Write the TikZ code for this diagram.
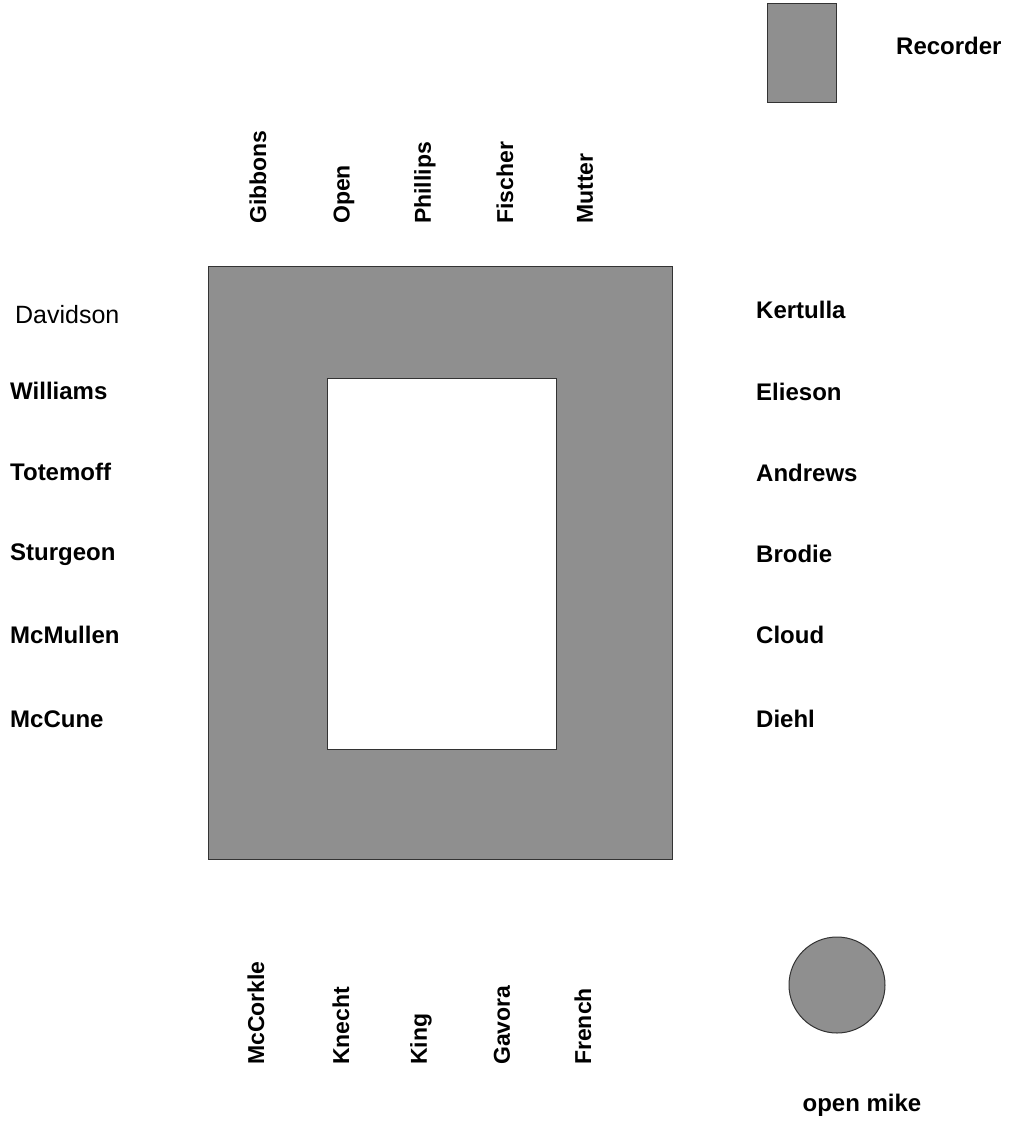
\documentclass[tikz,border=0pt]{standalone}
\usepackage{fontspec}
\setmainfont{Liberation Sans}
\definecolor{dither}{gray}{0.56}
\begin{document}
\begin{tikzpicture}[x=1pt,y=-1pt,
  lab/.style={inner sep=0pt,font=\bfseries\fontsize{24}{28}\selectfont},
  labreg/.style={inner sep=0pt,font=\fontsize{25}{28}\selectfont},
  vlab/.style={lab,rotate=90,anchor=west,font=\bfseries\fontsize{23}{28}\selectfont},
  shade/.style={fill=dither,draw=black!80,line width=1pt}]
\useasboundingbox (0,0) rectangle (1026,1132);
% table frame
\path[shade,even odd rule] (208,266) rectangle (672,859) (327,378) rectangle (556,749);
\coordinate (table) at (440,562);
% recorder
\node[shade,minimum width=69pt,minimum height=98pt,inner sep=0pt] (rec) at (801.5,53) {};
\node[lab,anchor=base west] (reclab) at (896,55) {Recorder};
% open mike
\node[shade,circle,minimum size=96pt,inner sep=0pt] (mike) at (837,985) {};
\node[lab,anchor=base] (mikelab) at (862,1111) {open mike};
% top
\node[vlab] (gibbons) at (258,224) {Gibbons};
\node[vlab] (open) at (344,224) {Open};
\node[vlab] (phillips) at (425,224) {Phillips};
\node[vlab] (fischer) at (505,224) {Fischer};
\node[vlab] (mutter) at (585,224) {Mutter};
% bottom
\node[vlab] (mccorkle) at (256,1065) {McCorkle};
\node[vlab] (knecht) at (341,1065) {Knecht};
\node[vlab] (king) at (421,1065) {King};
\node[vlab] (gavora) at (502,1065) {Gavora};
\node[vlab] (french) at (583,1065) {French};
% left
\node[labreg,anchor=base west] (davidson) at (15,323) {Davidson};
\node[lab,anchor=base west] (williams) at (10,399) {Williams};
\node[lab,anchor=base west] (totemoff) at (10,480) {Totemoff};
\node[lab,anchor=base west] (sturgeon) at (10,560) {Sturgeon};
\node[lab,anchor=base west] (mcmullen) at (10,643) {McMullen};
\node[lab,anchor=base west] (mccune) at (10,727) {McCune};
% right
\node[lab,anchor=base west] (kertulla) at (756,318) {Kertulla};
\node[lab,anchor=base west] (elieson) at (756,400) {Elieson};
\node[lab,anchor=base west] (andrews) at (756,481) {Andrews};
\node[lab,anchor=base west] (brodie) at (756,562) {Brodie};
\node[lab,anchor=base west] (cloud) at (756,643) {Cloud};
\node[lab,anchor=base west] (diehl) at (756,727) {Diehl};
\end{tikzpicture}
\end{document}
